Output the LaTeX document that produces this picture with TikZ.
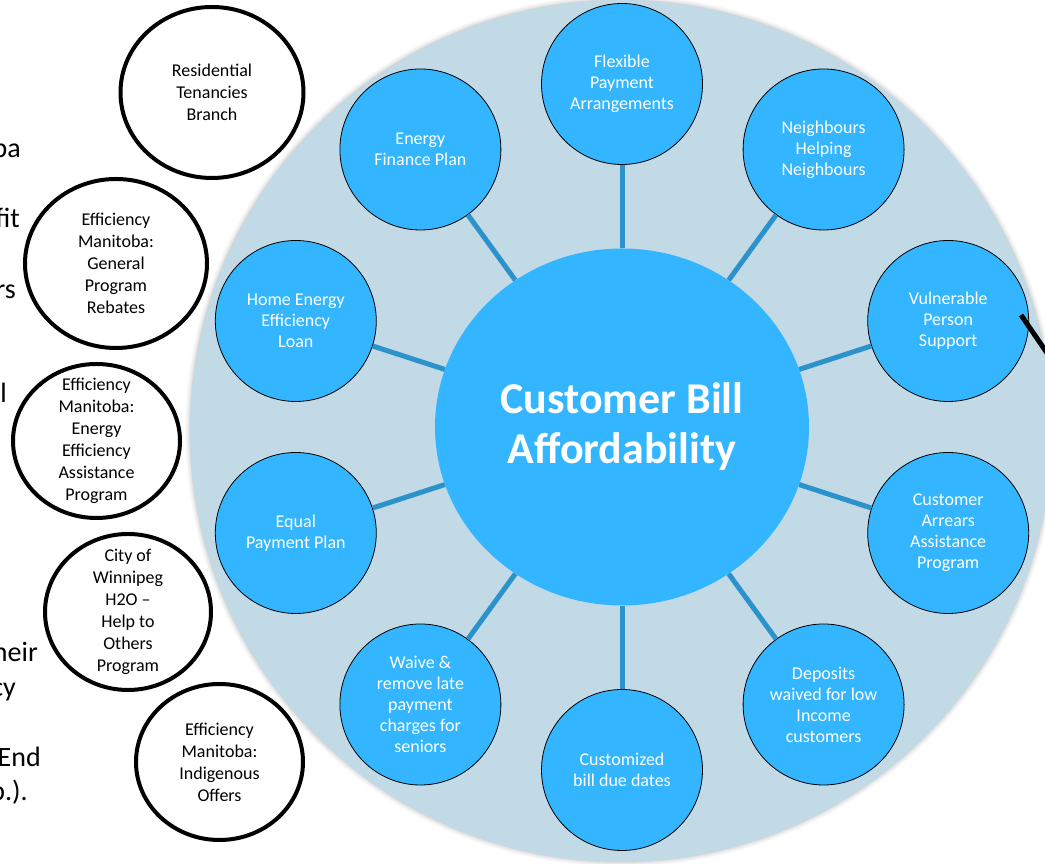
\documentclass[tikz,border=0pt]{standalone}
\usepackage{fontspec}
\setmainfont{Carlito}
\usepackage{xcolor}
\definecolor{ringbg}{HTML}{C2D9E6}
\definecolor{bubblefill}{HTML}{33B5FF}
\definecolor{linkblue}{HTML}{2B92CB}
\usetikzlibrary{shapes.geometric, calc, shadows.blur}

\begin{document}
\begin{tikzpicture}[
        x=1pt, y=1pt,
        bubble/.style={
            circle,
            draw=black,
            line width=0.8pt,
            fill=bubblefill,
            minimum size=161pt,
            inner sep=0pt,
            align=center,
            text=white,
            font=\fontsize{18}{21}\selectfont
        },
        hub/.style={
            ellipse,
            fill=bubblefill,
            minimum width=374pt,
            minimum height=357pt,
            inner sep=0pt,
            align=center,
            text=white,
            font=\fontsize{44}{50}\selectfont\bfseries
        },
        partner/.style={
            ellipse,
            draw=black,
            line width=4pt,
            fill=white,
            inner sep=0pt
        },
        partnertext/.style={
            align=center,
            inner sep=0pt,
            font=\fontsize{18}{22}\selectfont
        },
        link/.style={
            draw=linkblue,
            line width=5pt
        },
        fragment/.style={
            anchor=base east,
            inner sep=0pt,
            font=\fontsize{28}{34}\selectfont
        }
    ]

    \useasboundingbox (0,0) rectangle (1045,864);
    \clip (0,0) rectangle (1045,864);

    % Text running behind the partner circles
    \node[fragment] (t1) at (21,706) {ba};
    \node[fragment] (t2) at (20,636) {fit};
    \node[fragment] (t3) at (16,565) {rs};
    \node[fragment] (t4) at (7,461) {l};
    \node[fragment] (t5) at (38,202) {heir};
    \node[fragment] (t6) at (16,167) {cy};
    \node[fragment] (t7) at (41,97) {End};
    \node[fragment] (t8) at (28,63) {b.).};

    % Backdrop disc
    \fill[ringbg, blur shadow={shadow xshift=0pt, shadow yshift=0pt, shadow blur radius=5pt, shadow opacity=30}] (621,433) circle (431);

    % Centre
    \node[hub] (hub) at (622,437) {Customer Bill\\Affordability};

    % Programs around the centre
    \node[bubble] (flex) at (622,780) {Flexible\\Payment\\Arrangements};
    \node[bubble] (nhn) at (823.6,714.5) {Neighbours\\Helping\\Neighbours};
    \node[bubble] (vps) at (948.2,543) {Vulnerable\\Person\\Support};
    \node[bubble] (caap) at (948.2,331) {Customer\\Arrears\\Assistance\\Program};
    \node[bubble] (dep) at (823.6,159.5) {Deposits\\waived for low\\Income\\customers};
    \node[bubble] (cbd) at (622,94) {Customized\\bill due dates};
    \node[bubble] (waive) at (420.4,159.5) {Waive \&\\remove late\\payment\\charges for\\seniors};
    \node[bubble] (epp) at (295.8,331) {Equal\\Payment Plan};
    \node[bubble] (heel) at (295.8,543) {Home Energy\\Efficiency\\Loan};
    \node[bubble] (efp) at (420.4,714.5) {Energy\\Finance Plan};

    % Spokes
    \draw[link] (hub) -- (flex);
    \draw[link] (hub) -- (nhn);
    \draw[link] (hub) -- (vps);
    \draw[link] (hub) -- (caap);
    \draw[link] (hub) -- (dep);
    \draw[link] (hub) -- (cbd);
    \draw[link] (hub) -- (waive);
    \draw[link] (hub) -- (epp);
    \draw[link] (hub) -- (heel);
    \draw[link] (hub) -- (efp);

    % Partner programs on the left
    \node[partner, minimum width=183pt, minimum height=171pt] (rtb) at (212,771.5) {};
    \node[partnertext] at (rtb) {Residential\\Tenancies\\Branch};

    \node[partner, minimum width=182pt, minimum height=169pt] (emgpr) at (116,600.5) {};
    \node[partnertext] at (emgpr) {Efficiency\\Manitoba:\\General\\Program\\Rebates};

    \node[partner, minimum width=167pt, minimum height=154pt] (emeeap) at (96.5,423) {};
    \node[partnertext] at (emeeap) {Efficiency\\Manitoba:\\Energy\\Efficiency\\Assistance\\Program};

    \node[partner, minimum width=166pt, minimum height=156pt] (h2o) at (128,252) {};
    \node[partnertext] at (h2o) {City of\\Winnipeg\\H2O --\\Help to\\Others\\Program};

    \node[partner, minimum width=167pt, minimum height=156pt] (emio) at (219.5,102) {};
    \node[partnertext] at (emio) {Efficiency\\Manitoba:\\Indigenous\\Offers};

    % Pointer leaving on the right
    \coordinate (vpsedge) at (1021,549);
    \coordinate (offpage) at (1060,492);
    \draw[line width=5pt] (vpsedge) -- (offpage);

\end{tikzpicture}
\end{document}
